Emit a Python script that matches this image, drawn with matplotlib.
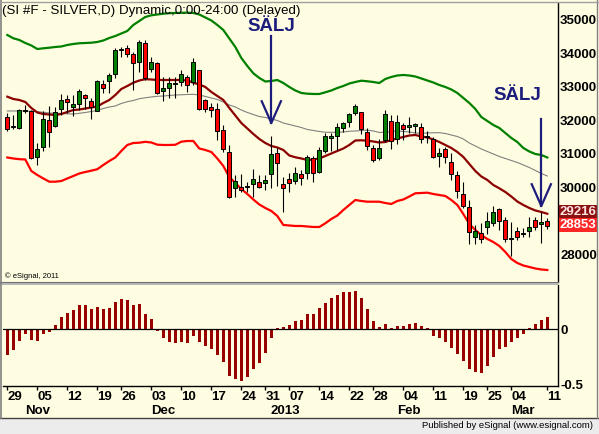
import numpy as np
import matplotlib
matplotlib.use('Agg')
import matplotlib.pyplot as plt
import matplotlib.transforms as mtransforms
from matplotlib.patches import Rectangle
from matplotlib.lines import Line2D

plt.rcParams['font.family'] = ['Liberation Sans', 'DejaVu Sans']

# daily bars, Oct 29 2012 .. Mar 11 2013 (SI #F)
opens = [32096, 31830, 31785, 32290, 32284, 30919, 31218, 32015, 31845, 32334,
         32642, 32412, 32493, 32752, 32582, 32293, 33090, 33188, 33379, 34090,
         34155, 33976, 33755, 34304, 33528, 33707, 32890, 32961, 33100, 33140,
         33308, 33149, 33507, 32612, 32394, 32334, 31716, 31051, 29976, 30024,
         30010, 30105, 30155, 30125, 30403, 31021, 30105, 30254, 30194, 30394,
         30424, 30872, 30454, 31090, 31469, 31537, 31767, 31946, 32215, 32245,
         31666, 31170, 30881, 31418, 31994, 31439, 31857, 31797, 31827, 31815,
         31510, 31439, 30949, 31140, 30752, 30373, 29797, 29427, 28532, 28651,
         28812, 28949, 29349, 29030, 28470, 28702, 28610, 28711, 29030, 28911,
         29009]
highs = [32215, 32164, 32330, 32463, 32313, 31319, 32284, 32433, 32412, 32791,
         32761, 32761, 32931, 32791, 32663, 33209, 33209, 33427, 34155, 34185,
         34254, 34054, 34403, 34403, 33904, 33737, 33290, 33308, 33308, 33507,
         33358, 33857, 33520, 32633, 32513, 32513, 31866, 31269, 30373, 30394,
         30173, 30543, 30373, 30373, 31537, 31170, 30322, 30424, 30603, 30522,
         30970, 30940, 31200, 31618, 31618, 31934, 31964, 32233, 32493, 32263,
         31767, 31269, 31448, 32313, 32164, 32164, 31916, 32114, 31916, 31916,
         31687, 31517, 31170, 31218, 31021, 30493, 30155, 29627, 28881, 28931,
         29278, 29457, 29397, 29129, 28979, 28812, 28782, 29129, 29111, 29278,
         29081]
lows = [31696, 31755, 31755, 32224, 30842, 30672, 31099, 31218, 31815, 32164,
        32233, 32134, 32313, 32334, 32036, 32284, 32830, 32830, 33260, 33904,
        33904, 32910, 33457, 33209, 33457, 32791, 32591, 32663, 32681, 33030,
        32860, 33060, 32313, 32263, 32096, 31418, 31069, 29678, 29708, 29875,
        29875, 29725, 29976, 29925, 29976, 30045, 29278, 29875, 30105, 30075,
        30254, 30173, 30424, 31030, 31099, 31119, 31666, 31815, 32164, 31597,
        31119, 30770, 30821, 31367, 31140, 31299, 31418, 31636, 31618, 31319,
        31337, 30872, 30603, 30740, 30224, 29678, 29379, 28314, 28314, 28335,
        28603, 28851, 28731, 28373, 27955, 28433, 28532, 28532, 28731, 28352,
        28752]
closes = [31755, 31806, 32313, 32310, 30872, 31149, 32045, 31666, 32245, 32603,
          32543, 32493, 32872, 32681, 32394, 33179, 32961, 33358, 34104, 34120,
          33985, 33707, 34334, 33278, 33737, 32830, 32961, 33110, 33120, 33379,
          33060, 33755, 32343, 32334, 32313, 31696, 31140, 29708, 30203, 29925,
          30030, 30245, 30006, 30224, 30991, 30740, 29976, 30125, 30442, 30275,
          30902, 30424, 31119, 31537, 31537, 31797, 31916, 32194, 32433, 31737,
          31239, 30821, 31170, 32185, 31388, 31946, 31737, 31857, 31887, 31439,
          31525, 30919, 31021, 30902, 30394, 29896, 29457, 28663, 28702, 28463,
          29000, 29278, 29000, 28454, 28500, 28532, 28630, 28812, 28830, 28979,
          28853]

upper_band = [34552, 34454, 34403, 34313, 34239, 34134, 34155, 34173, 34194, 34209,
              34254, 34284, 34305, 34313, 34322, 34343, 34388, 34463, 34522, 34597,
              34672, 34851, 34970, 35090, 35140, 35164, 35188, 35203, 35209, 35215,
              35218, 35209, 35164, 35075, 34985, 34851, 34701, 34448, 34194, 33866,
              33627, 33409, 33269, 33164, 33179, 33209, 33119, 33000, 32896, 32821,
              32800, 32791, 32791, 32842, 32896, 32970, 33030, 33104, 33149, 33188,
              33170, 33149, 33119, 33239, 33299, 33343, 33358, 33343, 33313, 33254,
              33194, 33134, 33060, 33000, 32925, 32821, 32672, 32522, 32343, 32104,
              31985, 31866, 31776, 31627, 31478, 31358, 31179, 31075, 31000, 30970,
              30896]
lower_band = [30896, 30866, 30845, 30836, 30493, 30373, 30269, 30173, 30173, 30194,
              30269, 30343, 30418, 30463, 30502, 30546, 30672, 30791, 30896, 31090,
              31269, 31328, 31337, 31364, 31343, 31278, 31269, 31269, 31275, 31367,
              31388, 31388, 31164, 31119, 31060, 30866, 30642, 30313, 30134, 29955,
              29806, 29642, 29493, 29388, 29299, 29149, 28881, 28866, 28851, 28851,
              28836, 28821, 28821, 28931, 29060, 29164, 29328, 29478, 29627, 29597,
              29576, 29576, 29576, 29537, 29508, 29597, 29642, 29731, 29827, 29836,
              29845, 29806, 29776, 29746, 29627, 29478, 29209, 28911, 28731, 28582,
              28463, 28373, 28254, 28075, 27866, 27746, 27672, 27627, 27582, 27552,
              27537]
fast_avg = [32711, 32642, 32612, 32552, 32373, 32239, 32194, 32179, 32164, 32194,
            32254, 32313, 32328, 32358, 32388, 32418, 32522, 32612, 32761, 32940,
            33030, 33128, 33194, 33233, 33224, 33209, 33209, 33209, 33209, 33209,
            33194, 33128, 33075, 33000, 32851, 32731, 32612, 32373, 32149, 31925,
            31761, 31597, 31448, 31328, 31239, 31194, 31119, 30955, 30902, 30866,
            30821, 30836, 30866, 30940, 31015, 31090, 31164, 31269, 31403, 31409,
            31397, 31373, 31343, 31358, 31418, 31463, 31508, 31552, 31567, 31522,
            31493, 31433, 31358, 31269, 31179, 31060, 30911, 30702, 30493, 30329,
            30224, 30075, 29976, 29866, 29731, 29582, 29478, 29388, 29314, 29269,
            29216]
slow_avg = [32284, 32284, 32284, 32284, 32275, 32263, 32245, 32224, 32215, 32209,
            32200, 32194, 32215, 32239, 32269, 32299, 32358, 32403, 32433, 32508,
            32561, 32597, 32651, 32678, 32702, 32722, 32731, 32746, 32761, 32767,
            32776, 32782, 32761, 32717, 32672, 32627, 32552, 32463, 32403, 32313,
            32239, 32179, 32119, 32090, 32045, 32000, 31925, 31881, 31836, 31791,
            31731, 31702, 31672, 31648, 31648, 31648, 31657, 31678, 31687, 31702,
            31711, 31687, 31642, 31648, 31672, 31687, 31672, 31657, 31627, 31618,
            31627, 31633, 31636, 31612, 31567, 31522, 31448, 31328, 31239, 31149,
            31075, 31000, 30925, 30866, 30806, 30746, 30672, 30597, 30508, 30418,
            30343]
oscillator = [-0.236, -0.191, -0.109, -0.045, -0.100, -0.109, -0.045, -0.024, 0.036, 0.106,
              0.142, 0.173, 0.218, 0.218, 0.182, 0.200, 0.182, 0.191, 0.245, 0.273,
              0.267, 0.218, 0.227, 0.136, 0.091, -0.015, -0.079, -0.115, -0.124, -0.115,
              -0.124, -0.064, -0.115, -0.152, -0.182, -0.236, -0.297, -0.424, -0.455, -0.470,
              -0.433, -0.364, -0.306, -0.215, -0.079, 0.012, 0.018, 0.036, 0.076, 0.082,
              0.136, 0.136, 0.188, 0.233, 0.279, 0.309, 0.333, 0.339, 0.348, 0.285,
              0.182, 0.076, 0.021, 0.045, 0.012, 0.027, 0.027, 0.045, 0.058, 0.027,
              0.012, -0.061, -0.085, -0.115, -0.170, -0.227, -0.291, -0.364, -0.388, -0.397,
              -0.336, -0.252, -0.185, -0.161, -0.121, -0.079, -0.045, 0.012, 0.045, 0.082,
              0.112]

day_pos = [0, 5, 10, 15, 19, 24, 29, 34, 39, 43, 47, 52, 57, 61, 66, 71, 76, 80, 84, 90]
day_labels = ['29', '05', '12', '19', '26', '03', '10', '17', '24', '31',
              '07', '14', '22', '28', '04', '11', '19', '25', '04', '11']
month_pos = [3, 24, 44, 65, 84]
month_labels = ['Nov', 'Dec', '2013', 'Feb', 'Mar']
price_ticks = [28000, 30000, 31000, 32000, 33000, 34000, 35000]

title = '(SI #F - SILVER,D) Dynamic,0:00-24:00 (Delayed)'
sell_signals = [(44, 31925), (89, 29448)]   # bar index, arrow tip price

W, H = 599, 434
BG = '#FFFDE1'
NAVY = '#1C1C7C'
LBL = dict(fontsize=9.5, fontweight='bold')


def px_box(x0, y0, x1, y1):
    return [x0 / W, 1 - y1 / H, (x1 - x0) / W, (y1 - y0) / H]


fig = plt.figure(figsize=(W / 100, H / 100), dpi=100, facecolor=BG)
ax = fig.add_axes(px_box(3, 3, 558, 282))
ax2 = fig.add_axes(px_box(3, 285, 558, 386))

idx = np.arange(len(closes))
o = np.array(opens)
c = np.array(closes)
xlim = (-0.72, 91.78)

for a in (ax, ax2):
    a.set_facecolor(BG)
    a.set_xlim(*xlim)
    for s in ('left', 'top', 'bottom'):
        a.spines[s].set_visible(False)
    a.spines['right'].set_linewidth(1.0)
    a.yaxis.tick_right()

# ---- price panel
ax.plot(idx, upper_band, color='#008000', lw=1.6, zorder=2)
ax.plot(idx, lower_band, color='#FF0000', lw=1.6, zorder=2)
ax.plot(idx, slow_avg, color='#808080', lw=0.8, zorder=2)
ax.plot(idx, fast_avg, color='#8B0000', lw=1.6, zorder=2)

ax.vlines(idx, lows, highs, color='black', lw=0.8, zorder=3)
body_lo = np.minimum(o, c)
body_h = np.maximum(np.abs(c - o), 25)
colors = np.where(c >= o, '#008000', '#FF0000')
ax.bar(idx, body_h, bottom=body_lo, width=0.66, color=colors,
       edgecolor='black', linewidth=0.7, zorder=4)

ax.set_ylim(27179, 35507)
ax.set_yticks(price_ticks)
ax.set_yticklabels([str(t) for t in price_ticks], **LBL)
ax.tick_params(axis='y', length=0, pad=1.5)
ax.set_xticks([])

# last values on the axis
ax.annotate(f'{fast_avg[-1]}', xy=(1, fast_avg[-1]), xycoords=('axes fraction', 'data'),
            xytext=(1.2, 1.5), textcoords='offset points', ha='left', va='center',
            color='#FFE4E4', bbox=dict(boxstyle='square,pad=0.08', fc='#8B1010', ec='none'),
            annotation_clip=False, zorder=6, **LBL)
ax.annotate(f'{closes[-1]}', xy=(1, closes[-1]), xycoords=('axes fraction', 'data'),
            xytext=(1.2, 0.5), textcoords='offset points', ha='left', va='center',
            color='white', bbox=dict(boxstyle='square,pad=0.08', fc='#FF2626', ec='none'),
            annotation_clip=False, zorder=6, **LBL)

# sell arrows
for bar_i, tip in sell_signals:
    top = tip + 2600
    ax.plot([bar_i, bar_i], [top, tip], color=NAVY, lw=1.6, zorder=7)
    ax.plot([bar_i - 1.6, bar_i, bar_i + 1.6], [tip + 650, tip, tip + 650],
            color=NAVY, lw=1.6, zorder=7)
ax.text(sell_signals[0][0], 34791, 'SÄLJ', color=NAVY, fontsize=13.5,
        fontweight='bold', ha='center', va='center', zorder=7)
ax.text(85, 32731, 'SÄLJ', color=NAVY, fontsize=13.5,
        fontweight='bold', ha='center', va='center', zorder=7)

ax.text(2 / 555, 6 / 279, '\u00a9 eSignal, 2011', transform=ax.transAxes,
        fontsize=5.5, ha='left', va='center')

# ---- oscillator panel
ax2.bar(idx, oscillator, width=0.4, color='#990000', zorder=2)
ax2.axhline(0, color='black', lw=0.9, zorder=3)
ax2.set_ylim(-0.518, 0.4)
ax2.spines['bottom'].set_visible(True)
ax2.spines['bottom'].set_linewidth(1.0)
ax2.set_yticks([0, -0.5])
ax2.set_yticklabels(['0', '-0.5'], **LBL)
ax2.tick_params(axis='y', length=0, pad=1.5)
ax2.set_xticks(day_pos)
ax2.set_xticklabels(day_labels, ha='left', **LBL)
ax2.tick_params(axis='x', length=3, width=1, pad=0.5)

mtrans = mtransforms.blended_transform_factory(ax2.transData, ax2.transAxes)
for pos, name in zip(month_pos, month_labels):
    ax2.text(pos - 0.1, -0.2475, name, transform=mtrans, ha='left', va='center',
             clip_on=False, **LBL)

# ---- window chrome
fig.patches.append(Rectangle((0, 1 - 285 / H), 558 / W, 3 / H, transform=fig.transFigure,
                             fc='#B8B8B8', ec='none'))
fig.lines.append(Line2D([0, 558 / W], [1 - 282 / H] * 2, transform=fig.transFigure,
                        color='#707070', lw=0.8))
fig.patches.append(Rectangle((0, 0), 1, 16 / H, transform=fig.transFigure,
                             fc='#ECECEC', ec='none'))
fig.lines.append(Line2D([0, 1], [16 / H] * 2, transform=fig.transFigure,
                        color='#404040', lw=1.0))
fig.lines.append(Line2D([1.0 / W] * 2, [16 / H, 1], transform=fig.transFigure,
                        color='#808080', lw=1.2))
fig.lines.append(Line2D([596.5 / W] * 2, [16 / H, 1], transform=fig.transFigure,
                        color='#808080', lw=1.0))
fig.lines.append(Line2D([0, 1], [1 - 1.5 / H] * 2, transform=fig.transFigure,
                        color='#A0A0A0', lw=1.0))
fig.text(2.5 / W, 1 - 11 / H, title, fontsize=9.6, ha='left', va='center', zorder=10)
fig.text(593 / W, 8 / H, 'Published by eSignal (www.esignal.com)', fontsize=6.8,
         ha='right', va='center')

fig.savefig('out.png', dpi=100, facecolor=BG)
